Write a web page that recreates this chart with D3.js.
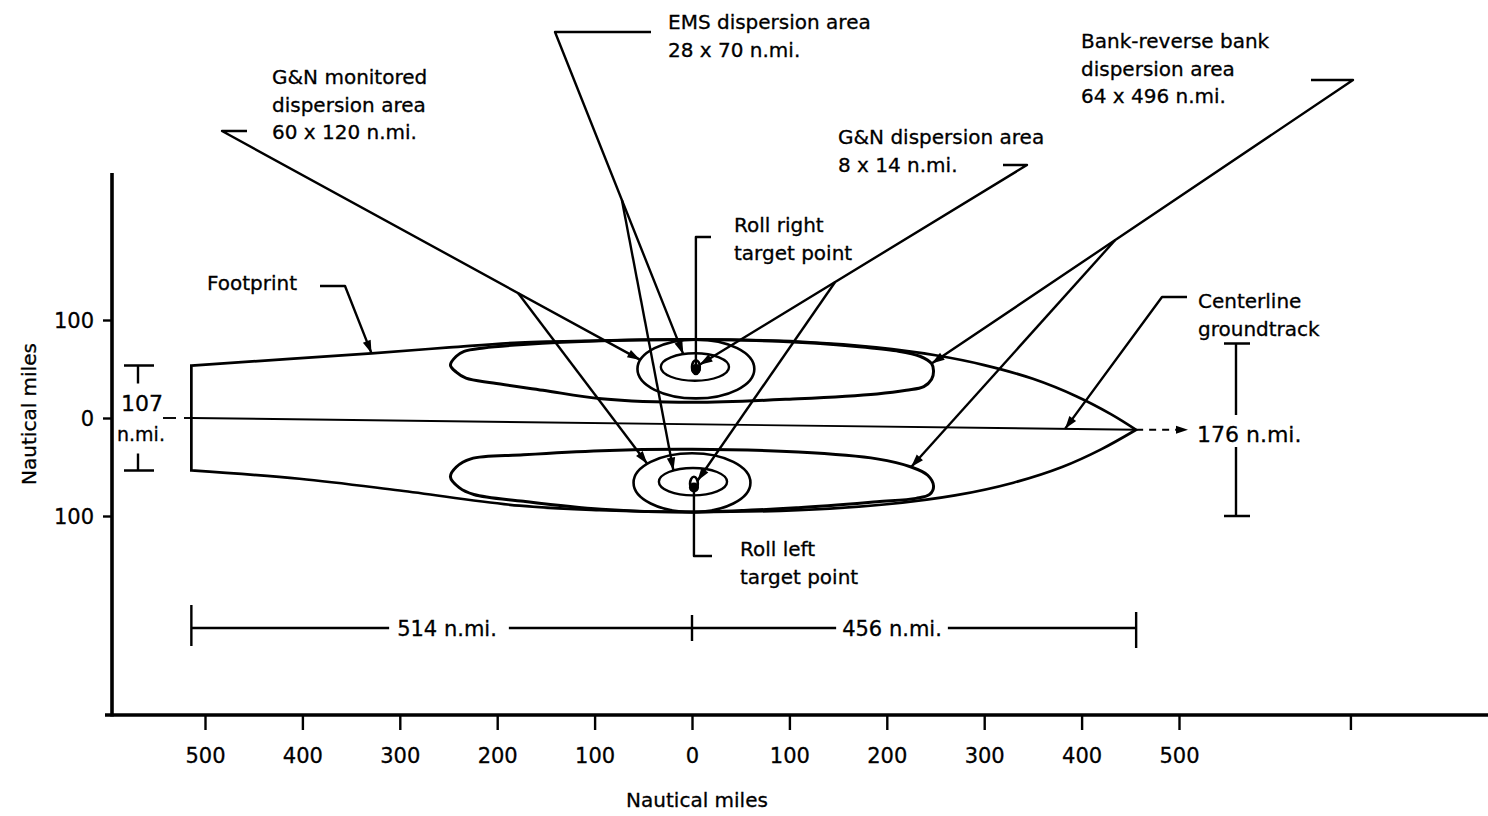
<!DOCTYPE html>
<html>
<head>
<meta charset="utf-8">
<script src="https://cdn.jsdelivr.net/npm/d3@7"></script>
<style>
  html, body { margin: 0; padding: 0; background: #fff; }
  svg { display: block; }
  text { font-family: 'DejaVu Sans', sans-serif; fill: #000; stroke: #000; stroke-width: 0.3px; }
</style>
</head>
<body>
<svg id="chart" width="1488" height="816"></svg>
<script>
// ---------- data (nautical miles: x = downrange, y = crossrange) ----------
const xTickValues = [-500, -400, -300, -200, -100, 0, 100, 200, 300, 400, 500, 676];
const xTickLabels = ["500", "400", "300", "200", "100", "0", "100", "200", "300", "400", "500", ""];
const yTickValues = [100, 0, -100];
const yTickLabels = ["100", "0", "100"];

// footprint dimensions
const uprangeLength = 514;
const downrangeLength = 456;
const heelWidth = 107;
const maxWidth = 176;

// footprint outline: upper edge (heel to toe) and lower edge (toe to heel)
const footprintTop = [[-514, 53.5], [-329, 66], [-249, 72], [-177, 77], [-95, 79], [0, 80],
  [109, 78], [189, 72], [250, 64], [300, 54], [350, 40], [395, 22], [430, 4], [456, -12]];
const footprintBottom = [[456, -12], [420, -32], [380, -50], [330, -66], [270, -79], [200, -88],
  [109, -94], [0, -96], [-95, -94], [-177, -89.5], [-300, -74], [-403, -62], [-514, -53.5]];

// centerline groundtrack
const centerline = [[-514, 0], [456, -12]];

// bank-reverse bank dispersion areas (roll right above, roll left below)
const lobeRollRight = [[-248, 54], [-242, 63], [-234, 68], [-214, 71.5], [-173, 75], [-93, 78.8], [0, 80],
  [89, 78.3], [169, 73], [210, 68.5], [234, 63], [246, 55.5], [248, 48], [246, 39.5], [238, 32],
  [220, 28.3], [190, 24.6], [109, 19.7], [0, 16], [-93, 19.7], [-153, 28.3], [-204, 35.7],
  [-232, 40.6], [-242, 46.8]];
const lobeRollLeft = [[-248, -60], [-242, -50], [-227, -41.7], [-173, -37.6], [-93, -33.4], [0, -32],
  [109, -34.8], [190, -41.7], [225, -50], [242, -58.4], [248, -69.6], [244, -78], [230, -82],
  [190, -85.5], [109, -91.5], [0, -96], [-93, -93.2], [-173, -85], [-224, -78], [-239, -71]];

// dispersion ellipses: centres plus downrange width x crossrange height
const monitoredCentres = [[4, 50], [0, -66]];
const monitoredSize = [120, 60];
const emsCentres = [[3, 52], [1, -65]];
const emsSize = [70, 28];
const gnCentres = [[4, 52], [2, -67]];
const gnSize = [8, 14];
const targetPoints = [[4, 50], [2, -71]];

// ---------- scales ----------
const svg = d3.select("#chart");
const x = d3.scaleLinear().domain([-500, 500]).range([205, 1179]);
const y = d3.scaleLinear().domain([-100, 100]).range([516, 320]);
const P = d => [x(d[0]), y(d[1])];

const ink = "#000";

// ---------- axes ----------
const xAxisY = 715;
const xAxis = d3.axisBottom(x).tickValues(xTickValues).tickSize(15)
  .tickFormat((d, i) => xTickLabels[i]);
const gx = svg.append("g").attr("transform", `translate(0,${xAxisY})`).call(xAxis);
gx.select(".domain").remove();
gx.selectAll(".tick line").attr("stroke", ink).attr("stroke-width", 2.4);
gx.selectAll(".tick text").attr("y", 48).attr("dy", null)
  .style("font-size", "21px").attr("fill", ink);
svg.append("line").attr("x1", 105).attr("x2", 1488).attr("y1", xAxisY).attr("y2", xAxisY)
  .attr("stroke", ink).attr("stroke-width", 3.6);

const yAxisX = 112;
const yAxis = d3.axisLeft(y).tickValues(yTickValues).tickSize(9)
  .tickFormat((d, i) => yTickLabels[i]);
const gy = svg.append("g").attr("transform", `translate(${yAxisX},0)`).call(yAxis);
gy.select(".domain").remove();
gy.selectAll(".tick line").attr("stroke", ink).attr("stroke-width", 2.4);
gy.selectAll(".tick text").attr("x", -18).attr("dy", "0.35em")
  .style("font-size", "21px").attr("fill", ink);
svg.append("line").attr("x1", yAxisX).attr("x2", yAxisX).attr("y1", 173).attr("y2", xAxisY + 1.5)
  .attr("stroke", ink).attr("stroke-width", 3.6);

svg.append("text").attr("x", 697).attr("y", 807).attr("text-anchor", "middle")
  .style("font-size", "20px").text("Nautical miles");
svg.append("text").attr("transform", "translate(36,414) rotate(-90)").attr("text-anchor", "middle")
  .style("font-size", "20px").text("Nautical miles");

// ---------- footprint ----------
const smooth = d3.line().x(d => x(d[0])).y(d => y(d[1])).curve(d3.curveCatmullRom.alpha(0.5));
const closedSmooth = d3.line().x(d => x(d[0])).y(d => y(d[1])).curve(d3.curveCatmullRomClosed.alpha(0.5));
const straight = d3.line().x(d => x(d[0])).y(d => y(d[1]));

svg.append("path")
  .attr("d", smooth(footprintTop) + smooth(footprintBottom).replace(/^M/, "L") + "Z")
  .attr("fill", "none").attr("stroke", ink).attr("stroke-width", 2.7).attr("stroke-linejoin", "miter");

svg.append("path").attr("d", straight(centerline))
  .attr("fill", "none").attr("stroke", ink).attr("stroke-width", 1.9);

// ---------- bank-reverse bank lobes ----------
[lobeRollRight, lobeRollLeft].forEach(l => {
  svg.append("path").attr("d", closedSmooth(l))
    .attr("fill", "none").attr("stroke", ink).attr("stroke-width", 3);
});

// ---------- dispersion ellipses ----------
function drawEllipses(centres, size, sw) {
  centres.forEach(c => {
    svg.append("ellipse")
      .attr("cx", x(c[0])).attr("cy", y(c[1]))
      .attr("rx", x(size[0] / 2) - x(0)).attr("ry", y(0) - y(size[1] / 2))
      .attr("fill", "none").attr("stroke", ink).attr("stroke-width", sw);
  });
}
drawEllipses(monitoredCentres, monitoredSize, 2.6);
drawEllipses(emsCentres, emsSize, 2.4);
drawEllipses(gnCentres, gnSize, 2.6);
targetPoints.forEach(t => {
  svg.append("circle").attr("cx", x(t[0])).attr("cy", y(t[1])).attr("r", 5).attr("fill", ink);
});

// point on an ellipse at a given angle (degrees, counter-clockwise from downrange)
function onEllipse(c, size, deg) {
  const a = deg * Math.PI / 180;
  return [c[0] + size[0] / 2 * Math.cos(a), c[1] + size[1] / 2 * Math.sin(a)];
}
function along(p, q, t) { return [p[0] + (q[0] - p[0]) * t, p[1] + (q[1] - p[1]) * t]; }
function centreAt(xv) {
  const [a, b] = centerline;
  return [xv, a[1] + (b[1] - a[1]) * (xv - a[0]) / (b[0] - a[0])];
}

// ---------- leaders ----------
const leaderLayer = svg.append("g");
function polyline(pts, sw = 2.4, dash = null) {
  const p = leaderLayer.append("path").attr("d", d3.line()(pts))
    .attr("fill", "none").attr("stroke", ink).attr("stroke-width", sw)
    .attr("stroke-linejoin", "round").attr("stroke-linecap", "butt");
  if (dash) p.attr("stroke-dasharray", dash);
}
function arrowHead(from, to, len = 13, half = 4.2) {
  const dx = to[0] - from[0], dy = to[1] - from[1];
  const L = Math.hypot(dx, dy), ux = dx / L, uy = dy / L;
  const bx = to[0] - ux * len, by = to[1] - uy * len;
  leaderLayer.append("path")
    .attr("d", `M${to[0]},${to[1]}L${bx - uy * half},${by + ux * half}L${bx + uy * half},${by - ux * half}Z`)
    .attr("fill", ink);
}
function leader(elbow, tip, branches = []) {
  const corner = elbow[elbow.length - 1];
  polyline([...elbow, tip]);
  arrowHead(corner, tip);
  branches.forEach(([t, target]) => {
    const s = along(corner, tip, t);
    polyline([s, target]);
    arrowHead(s, target);
  });
}

// footprint
leader([[320, 286], [345, 286]], P(footprintTop[1]));
// G&N monitored dispersion area
{
  const tip = P(onEllipse(monitoredCentres[0], monitoredSize, 162));
  const corner = [222, 131];
  const t = (293 - corner[1]) / (tip[1] - corner[1]);
  leader([[247, 131], corner], tip, [[t, P(onEllipse(monitoredCentres[1], monitoredSize, 140))]]);
}
// EMS dispersion area
{
  const tip = P(onEllipse(emsCentres[0], emsSize, 110));
  const corner = [555, 32];
  const t = (200 - corner[1]) / (tip[1] - corner[1]);
  leader([[651, 32], corner], tip, [[t, P(onEllipse(emsCentres[1], emsSize, 125))]]);
}
// G&N dispersion area
{
  const tip = P(onEllipse(gnCentres[0], gnSize, 20));
  const corner = [1027, 165];
  const t = (282 - corner[1]) / (tip[1] - corner[1]);
  leader([[1003, 165], corner], tip, [[t, P(onEllipse(gnCentres[1], gnSize, 25))]]);
}
// bank-reverse bank dispersion area
{
  const tip = P(lobeRollRight[11]);
  const corner = [1353, 80];
  const t = (240 - corner[1]) / (tip[1] - corner[1]);
  leader([[1311, 80], corner], tip, [[t, P(lobeRollLeft[8])]]);
}
// centerline groundtrack
leader([[1187, 297], [1162, 297]], P(centreAt(383)));

// roll right / roll left target points
{
  const r = P(targetPoints[0]);
  polyline([[711, 237], [r[0], 237], r]);
  const l = P(targetPoints[1]);
  polyline([l, [l[0], 556], [712, 556]]);
}

// toe dashed arrow
{
  const toe = P(footprintTop[footprintTop.length - 1]);
  const end = [1188, toe[1]];
  polyline([toe, [end[0] - 10, end[1]]], 2, "7,6");
  arrowHead(toe, end, 12, 4);
}

// ---------- dimension markers ----------
const dim = svg.append("g").attr("stroke", ink).attr("fill", "none").attr("stroke-width", 2.4);
// heel width
{
  const bx = 138, yt = y(heelWidth / 2), yb = y(-heelWidth / 2);
  dim.append("path").attr("d", `M124,${yt}H154M${bx},${yt}V${yt + 18}`);
  dim.append("path").attr("d", `M124,${yb}H154M${bx},${yb}V${yb - 17}`);
  polyline([[163, y(0)], [176, y(0)]], 1.9);
  polyline([[184, y(0)], [x(-uprangeLength), y(0)]], 1.9);
  svg.append("text").attr("x", 142).attr("y", 411).attr("text-anchor", "middle")
    .style("font-size", "22px").text(heelWidth);
  svg.append("text").attr("x", 141).attr("y", 441).attr("text-anchor", "middle")
    .style("font-size", "19px").text("n.mi.");
}
// maximum width
{
  const bx = 1236;
  const toeY = footprintTop[footprintTop.length - 1][1];
  const yt = y(toeY + maxWidth / 2), yb = y(toeY - maxWidth / 2);
  dim.append("path").attr("d", `M1224,${yt}H1250M${bx},${yt}V415`);
  dim.append("path").attr("d", `M1224,${yb}H1250M${bx},${yb}V447`);
  svg.append("text").attr("x", 1197).attr("y", 442).style("font-size", "22px")
    .text(`${maxWidth} n.mi.`);
}
// lengths
{
  const ly = 628;
  const x0 = x(-uprangeLength), xm = x(0), x1 = x(downrangeLength);
  dim.append("path").attr("d", `M${x0},605V646M${xm},615V641M${x1},612V648`);
  const t1 = svg.append("text").attr("x", 447).attr("y", ly + 8)
    .attr("text-anchor", "middle").style("font-size", "21px").text(`${uprangeLength} n.mi.`);
  const t2 = svg.append("text").attr("x", 892).attr("y", ly + 8)
    .attr("text-anchor", "middle").style("font-size", "21px").text(`${downrangeLength} n.mi.`);
  const b1 = t1.node().getBBox(), b2 = t2.node().getBBox();
  dim.append("path").attr("d",
    `M${x0},${ly}H${b1.x - 8}M${b1.x + b1.width + 12},${ly}H${b2.x - 6}M${b2.x + b2.width + 6},${ly}H${x1}`);
}

// ---------- text labels ----------
const labels = [
  { x: 668, y: 29, lines: ["EMS dispersion area", `${emsSize[1]} x ${emsSize[0]} n.mi.`] },
  { x: 272, y: 84, lines: ["G&N monitored", "dispersion area", `${monitoredSize[1]} x ${monitoredSize[0]} n.mi.`] },
  { x: 1081, y: 48, lines: ["Bank-reverse bank", "dispersion area", "64 x 496 n.mi."] },
  { x: 838, y: 144, lines: ["G&N dispersion area", `${gnSize[0]} x ${gnSize[1]} n.mi.`] },
  { x: 734, y: 232, lines: ["Roll right", "target point"] },
  { x: 740, y: 556, lines: ["Roll left", "target point"] },
  { x: 207, y: 290, lines: ["Footprint"] },
  { x: 1198, y: 308, lines: ["Centerline", "groundtrack"] }
];
labels.forEach(b => {
  const t = svg.append("text").attr("x", b.x).attr("y", b.y).style("font-size", "20px");
  b.lines.forEach((s, i) => t.append("tspan").attr("x", b.x).attr("dy", i ? 27.5 : 0).text(s));
});
</script>
</body>
</html>
